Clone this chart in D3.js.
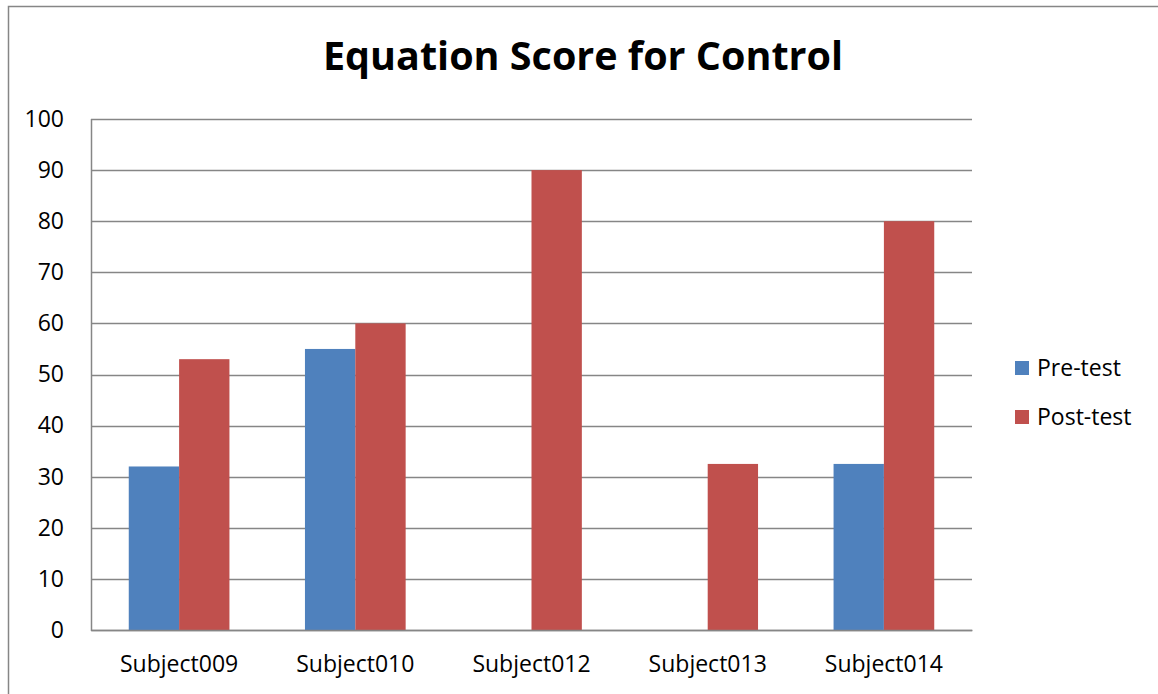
<!DOCTYPE html>
<html>
<head>
<meta charset="utf-8">
<script src="https://cdn.jsdelivr.net/npm/d3@7"></script>
<style>
  html, body { margin: 0; padding: 0; background: #fff; }
  svg { display: block; }
  text { font-family: "Open Sans", sans-serif; fill: #000; }
</style>
</head>
<body>
<svg id="chart" width="1158" height="694"></svg>
<script>
// Scores per subject
const categories = ["Subject009", "Subject010", "Subject012", "Subject013", "Subject014"];
const seriesNames = ["Pre-test", "Post-test"];
const preTest = [32, 55, 0, 0, 32.5];
const postTest = [53, 60, 90, 32.5, 80];
const yTicks = [0, 10, 20, 30, 40, 50, 60, 70, 80, 90, 100];
const colors = ["#4F81BD", "#C0504D"];

const FONT = "'Open Sans', sans-serif";
const LABEL_SIZE = "23px";
const svg = d3.select("#chart");
const W = 1158, H = 694;

// chart frame
svg.append("rect")
  .attr("x", 8.5).attr("y", 6.5)
  .attr("width", W + 10).attr("height", H + 10)
  .attr("fill", "#fff").attr("stroke", "#868686").attr("stroke-width", 1.5);

const plot = { left: 91, right: 972, top: 119, bottom: 630 };

const x = d3.scaleBand().domain(categories).range([plot.left, plot.right]).paddingInner(0).paddingOuter(0);
const y = d3.scaleLinear().domain([0, 100]).range([plot.bottom, plot.top]);

// bar group occupies 2 bars; gap = 150% of one bar
const barW = x.bandwidth() / 3.5;
const xs = d3.scaleBand().domain(seriesNames).range([0, barW * 2]);

// gridlines
svg.append("g")
  .selectAll("line")
  .data(yTicks)
  .join("line")
  .attr("x1", plot.left).attr("x2", plot.right)
  .attr("y1", d => Math.round(y(d)) + 0.5).attr("y2", d => Math.round(y(d)) + 0.5)
  .attr("stroke", "#868686").attr("stroke-width", 1.5);

// y axis line
svg.append("line")
  .attr("x1", plot.left + 0.5).attr("x2", plot.left + 0.5)
  .attr("y1", plot.top).attr("y2", plot.bottom + 1)
  .attr("stroke", "#868686").attr("stroke-width", 1.5);

// y tick labels
const yAxis = d3.axisLeft(y).tickValues(yTicks).tickSize(0).tickPadding(27);
const gy = svg.append("g").attr("transform", `translate(${plot.left},0)`).call(yAxis);
gy.select(".domain").remove();
gy.selectAll("text").style("font-size", LABEL_SIZE).style("font-family", FONT).attr("fill", "#000");

// bars
const data = categories.map((c, i) => ({ cat: c, values: [preTest[i], postTest[i]] }));
const groups = svg.append("g").selectAll("g")
  .data(data)
  .join("g")
  .attr("transform", d => `translate(${x(d.cat) + (x.bandwidth() - barW * 2) / 2},0)`);

groups.selectAll("rect")
  .data(d => d.values.map((v, j) => ({ name: seriesNames[j], v, j })))
  .join("rect")
  .attr("x", d => xs(d.name))
  .attr("width", xs.bandwidth())
  .attr("y", d => y(d.v))
  .attr("height", d => y(0) - y(d.v))
  .attr("fill", d => colors[d.j]);

// x axis
const xAxis = d3.axisBottom(x).tickSize(0).tickPadding(26);
const gx = svg.append("g").attr("transform", `translate(0,${plot.bottom})`).call(xAxis);
gx.select(".domain").attr("stroke", "#868686").attr("stroke-width", 1.5);
gx.selectAll("text").style("font-size", LABEL_SIZE).style("font-family", FONT).attr("fill", "#000");

// title
svg.append("text")
  .attr("x", 583).attr("y", 70)
  .attr("text-anchor", "middle")
  .style("font-size", "39.5px").style("font-weight", "bold")
  .text("Equation Score for Control");

// legend
const legend = svg.append("g").selectAll("g")
  .data(seriesNames)
  .join("g")
  .attr("transform", (d, i) => `translate(1015,${361 + i * 49})`);
legend.append("rect").attr("width", 14).attr("height", 14).attr("fill", (d, i) => colors[i]);
legend.append("text").attr("x", 22).attr("y", 15).style("font-size", LABEL_SIZE).text(d => d);
</script>
</body>
</html>
